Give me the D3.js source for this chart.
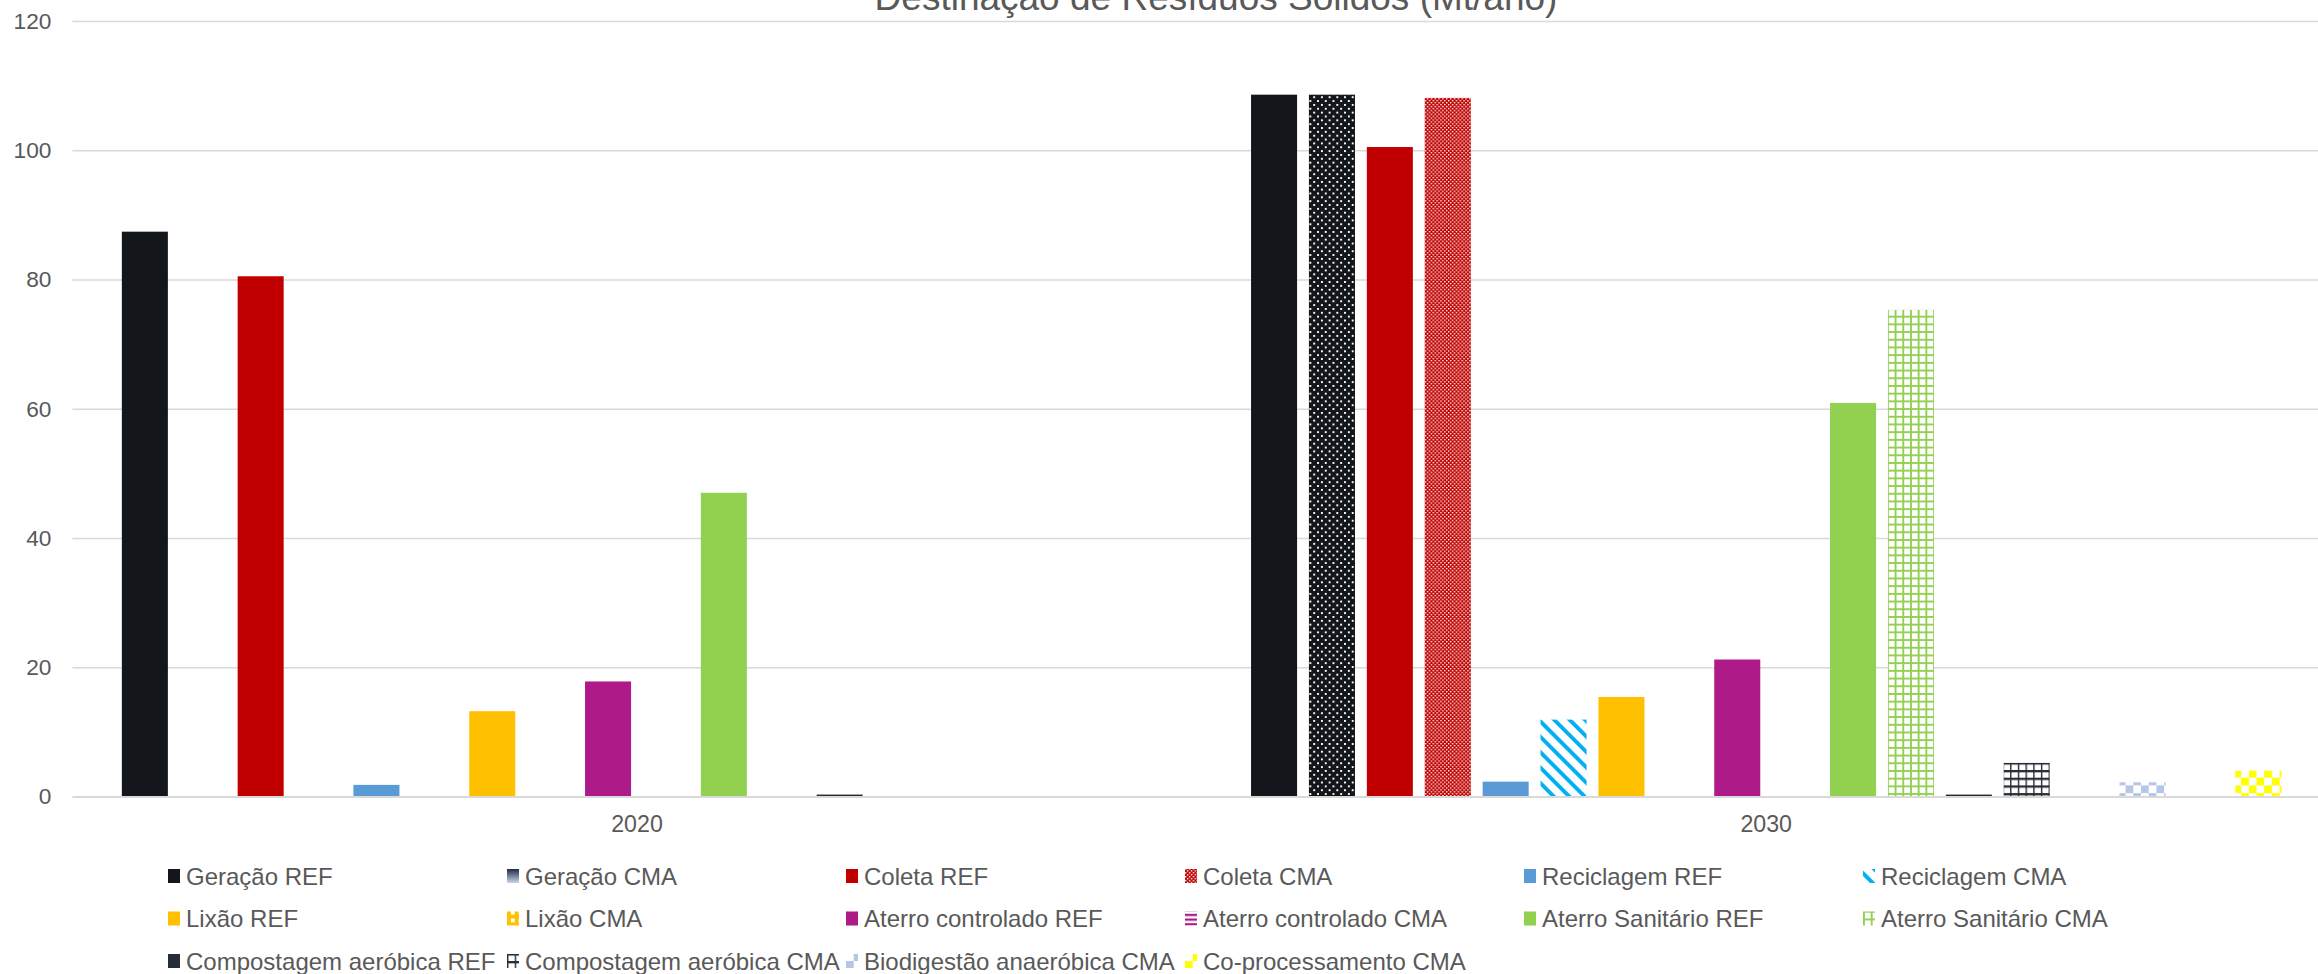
<!DOCTYPE html>
<html>
<head>
<meta charset="utf-8">
<script src="https://cdn.jsdelivr.net/npm/d3@7"></script>
<style>
  html, body { margin: 0; padding: 0; background: #ffffff; }
  svg { display: block; }
  text { font-family: "Liberation Sans", Arial, sans-serif; fill: #595959; }
</style>
</head>
<body>
<svg id="chart" width="2318" height="974"></svg>
<script>
// ---- data ----
const years = ["2020", "2030"];
const seriesNames = [
  "Geração REF", "Geração CMA",
  "Coleta REF", "Coleta CMA",
  "Reciclagem REF", "Reciclagem CMA",
  "Lixão REF", "Lixão CMA",
  "Aterro controlado REF", "Aterro controlado CMA",
  "Aterro Sanitário REF", "Aterro Sanitário CMA",
  "Compostagem aeróbica REF", "Compostagem aeróbica CMA",
  "Biodigestão anaeróbica REF", "Biodigestão anaeróbica CMA",
  "Co-processamento REF", "Co-processamento CMA"
];
const values2020 = [87.4, 0, 80.5, 0, 1.8, 0, 13.2, 0, 17.8, 0, 47.0, 0, 0.3, 0, 0, 0, 0, 0];
const values2030 = [108.6, 108.6, 100.5, 108.1, 2.3, 11.9, 15.4, 0, 21.2, 0, 60.9, 75.3, 0.3, 5.2, 0, 2.2, 0, 4.0];
const hiddenFromLegend = ["Biodigestão anaeróbica REF", "Co-processamento REF"];
const yTicks = [0, 20, 40, 60, 80, 100, 120];
const title = "Destinação de Resíduos Sólidos (Mt/ano)";

const valuesByYear = { "2020": values2020, "2030": values2030 };

// ---- fills ----
const fills = {
  "Geração REF": "#13161b",
  "Geração CMA": "url(#pGeracaoCMA)",
  "Coleta REF": "#c00000",
  "Coleta CMA": "url(#pColetaCMA)",
  "Reciclagem REF": "#5b9bd5",
  "Reciclagem CMA": "url(#pReciclagemCMA)",
  "Lixão REF": "#ffc000",
  "Lixão CMA": "url(#pLixaoCMA)",
  "Aterro controlado REF": "#ae1a88",
  "Aterro controlado CMA": "url(#pControladoCMA)",
  "Aterro Sanitário REF": "#92d050",
  "Aterro Sanitário CMA": "url(#pSanitarioCMA)",
  "Compostagem aeróbica REF": "#262d36",
  "Compostagem aeróbica CMA": "url(#pCompostagemCMA)",
  "Biodigestão anaeróbica REF": "#8faadc",
  "Biodigestão anaeróbica CMA": "url(#pBiodigestaoCMA)",
  "Co-processamento REF": "#ffff00",
  "Co-processamento CMA": "url(#pCoprocCMA)"
};
const legendFills = Object.assign({}, fills, { "Geração CMA": "url(#gGeracaoCMA)" });

const svg = d3.select("#chart");
const defs = svg.append("defs");

function pattern(id, w, h, bg, shapes, transform) {
  const p = defs.append("pattern")
    .attr("id", id).attr("patternUnits", "userSpaceOnUse")
    .attr("width", w).attr("height", h);
  if (transform) p.attr("patternTransform", transform);
  p.append("rect").attr("width", w).attr("height", h).attr("fill", bg);
  shapes.forEach(s => p.append("rect")
    .attr("x", s[0]).attr("y", s[1]).attr("width", s[2]).attr("height", s[3]).attr("fill", s[4]));
}
const c = 7.7, hc = c / 2;
pattern("pGeracaoCMA", c, c, "#13161b", [[0, 0, 1.9, 1.9, "#ffffff"], [hc, hc, 1.9, 1.9, "#ffffff"]]);
pattern("pColetaCMA", hc, hc, "#c00000", [[0, 0, 1.4, 1.4, "#ffffff"], [hc / 2, hc / 2, 1.4, 1.4, "#ffffff"]]);
pattern("pReciclagemCMA", 10.9, 10, "#ffffff", [[0, 0, 3.9, 10, "#00b0f0"]], "rotate(-45)");
pattern("pLixaoCMA", c, c, "#ffffff", [[0, 0, hc, c, "#ffc000"], [hc, hc, hc, hc, "#ffc000"]]);
pattern("pControladoCMA", 6, 4.7, "#ffffff", [[0, 0, 6, 2.3, "#ae1a88"]]);
pattern("pSanitarioCMA", c, c, "#ffffff", [[0, 0, c, 1.9, "#92d050"], [0, 0, 1.9, c, "#92d050"]]);
pattern("pCompostagemCMA", c, c, "#ffffff", [[0, 0, c, 2.3, "#262d36"], [0, 0, 1.4, c, "#262d36"]]);
pattern("pBiodigestaoCMA", 2 * c, 2 * c, "#ffffff", [[0, 0, c, c, "#b4c7e7"], [c, c, c, c, "#b4c7e7"]]);
pattern("pCoprocCMA", 2 * c, 2 * c, "#ffffff", [[0, 0, c, c, "#ffff00"], [c, c, c, c, "#ffff00"]]);

const grad = defs.append("linearGradient").attr("id", "gGeracaoCMA")
  .attr("x1", 0).attr("y1", 0).attr("x2", 0).attr("y2", 1);
grad.append("stop").attr("offset", "0%").attr("stop-color", "#1f2a44");
grad.append("stop").attr("offset", "100%").attr("stop-color", "#c9d6ea");

// ---- scales ----
const plotLeft = 72.4, plotRight = 2330.8;
const x0 = d3.scaleBand().domain(years).range([plotLeft, plotRight]);
const x1 = d3.scaleBand().domain(seriesNames).range([0, x0.bandwidth()])
  .paddingInner(0.205).paddingOuter(0.854);
const y = d3.scaleLinear().domain([0, 120]).range([796.5, 21]);

// ---- gridlines and value axis ----
const yAxis = svg.append("g")
  .attr("transform", `translate(${plotLeft},0)`)
  .call(d3.axisLeft(y).tickValues(yTicks).tickFormat(d3.format("d"))
    .tickSize(-(plotRight - plotLeft)).tickPadding(21));
yAxis.select(".domain").remove();
yAxis.selectAll(".tick line").attr("stroke", "#d9d9d9").attr("stroke-width", 1.5);
yAxis.selectAll(".tick text").attr("font-size", "22.7px").attr("fill", "#595959")
  .attr("font-family", "'Liberation Sans', Arial, sans-serif");

// ---- bars ----
const groups = svg.append("g").selectAll("g")
  .data(years).join("g")
  .attr("transform", d => `translate(${x0(d)},0)`);

groups.selectAll("rect")
  .data(yr => seriesNames.map((s, i) => ({ s, v: valuesByYear[yr][i] })).filter(d => d.v > 0))
  .join("rect")
  .attr("x", d => x1(d.s))
  .attr("width", x1.bandwidth())
  .attr("y", d => y(d.v))
  .attr("height", d => y(0) - y(d.v))
  .attr("fill", d => fills[d.s]);

// ---- category axis ----
const xAxis = svg.append("g")
  .attr("transform", `translate(0,${y(0)})`)
  .call(d3.axisBottom(x0).tickSize(0).tickSizeOuter(0).tickPadding(19));
xAxis.select(".domain").attr("stroke", "#d9d9d9").attr("stroke-width", 2);
xAxis.selectAll(".tick text").attr("font-size", "23.2px").attr("fill", "#595959")
  .attr("font-family", "'Liberation Sans', Arial, sans-serif");

// ---- title ----
svg.append("text")
  .attr("x", 1216).attr("y", 10)
  .attr("text-anchor", "middle")
  .attr("font-size", "37px")
  .text(title);

// ---- legend ----
const legendNames = seriesNames.filter(s => !hiddenFromLegend.includes(s));
const legCols = 6, legX0 = 168, legDX = 339, legY0 = 876, legDY = 42.5;
const leg = svg.append("g").selectAll("g")
  .data(legendNames).join("g")
  .attr("transform", (d, i) => `translate(${legX0 + (i % legCols) * legDX},${legY0 + Math.floor(i / legCols) * legDY})`);
leg.append("rect")
  .attr("x", 0).attr("y", -7).attr("width", 12).attr("height", 14)
  .attr("fill", d => legendFills[d]);
leg.append("text")
  .attr("x", 18).attr("y", 8.5)
  .attr("font-size", "24px")
  .text(d => d);
</script>
</body>
</html>
